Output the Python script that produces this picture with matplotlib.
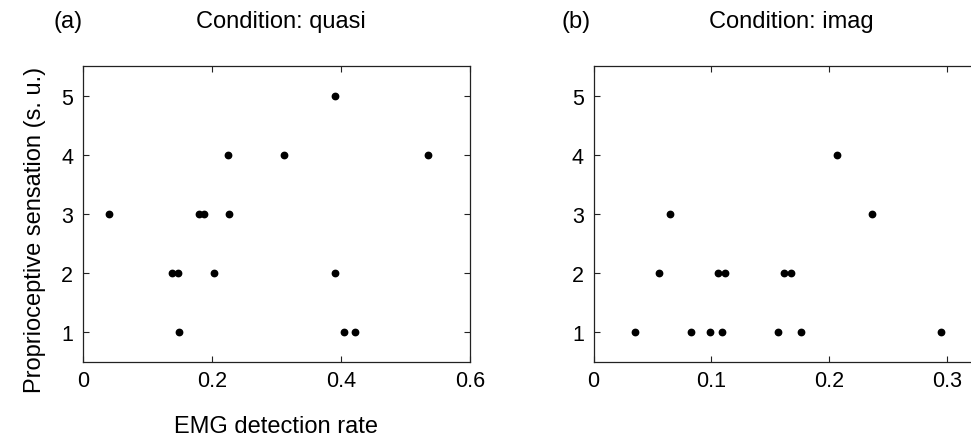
import matplotlib
matplotlib.use("Agg")
import matplotlib.pyplot as plt

plt.rcParams['font.family'] = ['Liberation Sans', 'DejaVu Sans']

# Condition "quasi": EMG detection rate vs. proprioceptive sensation score
quasi_rate = [0.391, 0.225, 0.311, 0.535, 0.041, 0.180, 0.187, 0.226,
              0.138, 0.147, 0.203, 0.390, 0.149, 0.404, 0.422]
quasi_score = [5, 4, 4, 4, 3, 3, 3, 3, 2, 2, 2, 2, 1, 1, 1]

# Condition "imag"
imag_rate = [0.207, 0.065, 0.236, 0.056, 0.106, 0.112, 0.162, 0.168,
             0.035, 0.083, 0.099, 0.109, 0.157, 0.176, 0.295]
imag_score = [4, 3, 3, 2, 2, 2, 2, 2, 1, 1, 1, 1, 1, 1, 1]

quasi_xticks = [0, 0.2, 0.4, 0.6]
quasi_xticklabels = ['0', '0.2', '0.4', '0.6']
imag_xticks = [0, 0.1, 0.2, 0.3]
imag_xticklabels = ['0', '0.1', '0.2', '0.3']
yticks = [1, 2, 3, 4, 5]

W, H = 971, 439
fig = plt.figure(figsize=(W / 100, H / 100), dpi=100)

ax_w = 387 / W
ax_h = 296 / H
ax_b = (H - 363) / H
ax1 = fig.add_axes([83 / W, ax_b, ax_w, ax_h])
ax2 = fig.add_axes([593.5 / W, ax_b, ax_w, ax_h])


def style(ax, xs, ys, xlim, xticks, xticklabels):
    ax.plot(xs, ys, 'o', color='black', markersize=4.6, linestyle='none')
    ax.set_xlim(*xlim)
    ax.set_ylim(0.5, 5.5)
    ax.set_xticks(xticks)
    ax.set_xticklabels(xticklabels)
    ax.set_yticks(yticks)
    ax.set_yticklabels([str(v) for v in yticks])
    ax.tick_params(direction='in', length=4, width=0.8, labelsize=15.5,
                   top=True, right=True, colors='#222222', labelcolor='black')
    ax.tick_params(axis='x', pad=6)
    ax.tick_params(axis='y', pad=7)
    for sp in ax.spines.values():
        sp.set_color('#222222')
        sp.set_linewidth(0.9)


style(ax1, quasi_rate, quasi_score, (0, 0.6), quasi_xticks, quasi_xticklabels)
style(ax2, imag_rate, imag_score, (0, 387 / 1178), imag_xticks, imag_xticklabels)

# Panel letters and titles
title_y = (H - 28.3) / H
fig.text(83 / W, title_y, '(a)', ha='right', va='baseline', fontsize=17)
fig.text(281 / W, title_y, 'Condition: quasi', ha='center', va='baseline', fontsize=17)
fig.text(591 / W, title_y, '(b)', ha='right', va='baseline', fontsize=17)
fig.text(791.5 / W, title_y, 'Condition: imag', ha='center', va='baseline', fontsize=17)

# Axis labels
fig.text(275.7 / W, 1.0 / H, 'EMG detection rate', ha='center', va='bottom', fontsize=17)
fig.text(35 / W, (H - 230) / H, 'Proprioceptive sensation (s. u.)', rotation=90,
         ha='center', va='center', fontsize=17)

fig.savefig('out.png', dpi=100)
